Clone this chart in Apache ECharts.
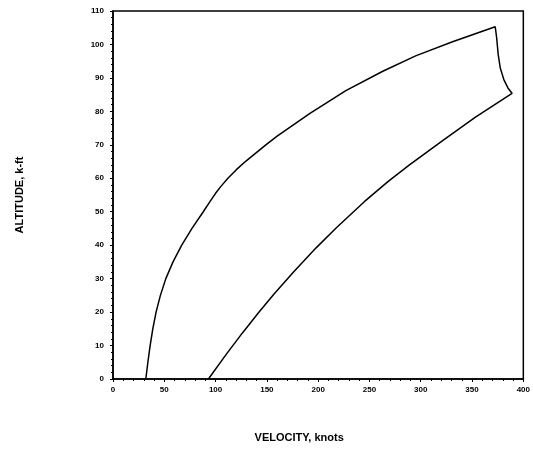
<!DOCTYPE html>
<html>
<head>
<meta charset="utf-8">
<script src="https://cdn.jsdelivr.net/npm/echarts@6/dist/echarts.min.js"></script>
<style>
  html, body { margin: 0; padding: 0; background: #fff; }
  #chart { width: 533px; height: 450px; }
</style>
</head>
<body>
<div id="chart"></div>
<script type="application/javascript">
// flight envelope, traced going up the low-speed edge, over the top, and down the high-speed edge
const velocity = [32, 34, 36.2, 38.8, 42, 46.2, 51.5, 58.5, 67, 77, 88, 94.5, 100, 105, 112, 120, 129, 149,
  160, 192, 227, 263, 295, 331, 372.6,
  374, 375.5, 377.5, 381, 385, 389,
  353, 321, 289, 268, 245, 218, 198, 176, 157, 142, 126, 110, 93];
const altitude = [0, 5, 10, 15, 20, 25, 30, 35, 40, 45, 50, 53, 55.5, 57.5, 60, 62.5, 65, 70,
  72.6, 79.4, 86.2, 92, 96.6, 100.8, 105.3,
  102, 97, 93, 89.5, 87, 85.4,
  78.2, 71.2, 64, 59, 53, 45.3, 39.2, 32, 25.4, 19.9, 13.7, 7.2, 0];

const xTitle = 'VELOCITY, knots';
const yTitle = 'ALTITUDE, k-ft';

const chart = echarts.init(document.getElementById('chart'));

const labelStyle = {
  color: '#000',
  fontSize: 8,
  fontWeight: 'bold',
  fontFamily: 'Liberation Sans'
};

chart.setOption({
  animation: false,
  grid: {
    left: 113,
    right: 4,
    top: 11,
    bottom: 71,
    show: true,
    borderColor: '#000',
    borderWidth: 1.5
  },
  xAxis: {
    type: 'value',
    min: 0,
    max: 400,
    interval: 50,
    name: xTitle,
    nameLocation: 'middle',
    nameGap: 53,
    nameTextStyle: {
      color: '#000',
      fontSize: 11,
      fontWeight: 'bold',
      fontFamily: 'Liberation Sans',
      padding: [0, 38, 0, 0]
    },
    axisLine: { lineStyle: { color: '#000', width: 1.5 } },
    axisTick: { length: 3, lineStyle: { color: '#000' } },
    minorTick: { show: true, splitNumber: 5, length: 2, lineStyle: { color: '#000' } },
    axisLabel: Object.assign({ margin: 7 }, labelStyle),
    splitLine: { show: false }
  },
  yAxis: {
    type: 'value',
    min: 0,
    max: 110,
    interval: 10,
    name: yTitle,
    nameLocation: 'middle',
    nameGap: 88,
    nameTextStyle: {
      color: '#000',
      fontSize: 11,
      fontWeight: 'bold',
      fontFamily: 'Liberation Sans'
    },
    axisLine: { lineStyle: { color: '#000', width: 1.5 } },
    axisTick: { length: 3, lineStyle: { color: '#000' } },
    minorTick: { show: true, splitNumber: 5, length: 2, lineStyle: { color: '#000' } },
    axisLabel: Object.assign({ margin: 9 }, labelStyle),
    splitLine: { show: false }
  },
  series: [{
    type: 'line',
    data: velocity.map((v, i) => [v, altitude[i]]),
    symbol: 'none',
    smooth: false,
    lineStyle: { color: '#000', width: 1.5 }
  }]
});
</script>
</body>
</html>
